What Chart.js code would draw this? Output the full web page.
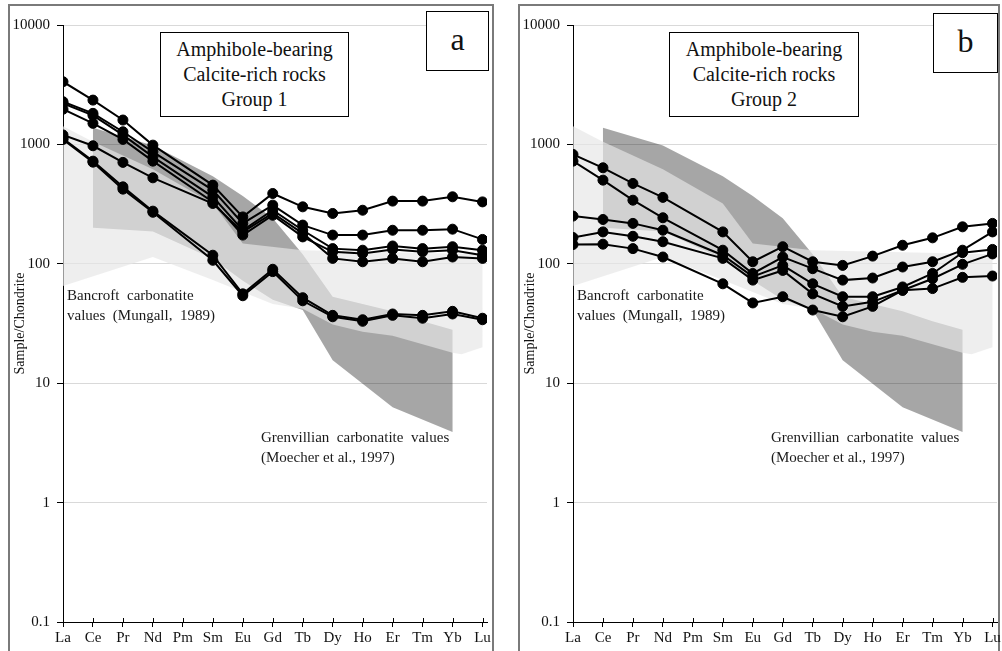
<!DOCTYPE html>
<html>
<head>
<meta charset="utf-8">
<script src="https://cdn.jsdelivr.net/npm/chart.js@4.4.0/dist/chart.umd.min.js"></script>
<style>
  body { margin: 0; width: 1002px; height: 651px; overflow: hidden; background: #fff; position: relative;
         font-family: 'Liberation Serif', Tinos, 'Times New Roman', Times, 'DejaVu Serif', serif; color: #111; }
  .frame { position: absolute; top: 4px; height: 700px; border: 2px solid #7a7a7a; box-sizing: border-box; }
  .wrap { position: absolute; top: 0; width: 500px; height: 651px; }
  .box { position: absolute; border: 1.5px solid #000; background: #fff; box-sizing: border-box; text-align: center; }
  .title-box { font-size: 20px; line-height: 25px; padding-top: 4px; }
  .letter-box { font-size: 32px; line-height: 54px; }
  .note { position: absolute; font-size: 15px; line-height: 20px; white-space: pre; color: #1a1a1a; }
</style>
</head>
<body>
<div class="frame" style="left:8px; width:486px;"></div>
<div class="frame" style="left:518px; width:482px;"></div>

<div class="wrap" style="left:0;"><canvas id="chartA" width="500" height="651"></canvas></div>
<div class="wrap" style="left:510px;"><canvas id="chartB" width="500" height="651"></canvas></div>

<div class="box title-box" style="left:160px; top:32px; width:189px; height:85px;">Amphibole-bearing<br>Calcite-rich rocks<br>Group 1</div>
<div class="box letter-box" style="left:426px; top:11px; width:63px; height:60px;">a</div>
<div class="box title-box" style="left:669px; top:32px; width:190px; height:85px;">Amphibole-bearing<br>Calcite-rich rocks<br>Group 2</div>
<div class="box letter-box" style="left:933px; top:13px; width:65px; height:60px;">b</div>

<div class="note" style="left:67px; top:285px;">Bancroft  carbonatite
values  (Mungall,  1989)</div>
<div class="note" style="left:577px; top:285px;">Bancroft  carbonatite
values  (Mungall,  1989)</div>
<div class="note" style="left:261px; top:427px;">Grenvillian  carbonatite  values
(Moecher et al., 1997)</div>
<div class="note" style="left:771px; top:427px;">Grenvillian  carbonatite  values
(Moecher et al., 1997)</div>

<script>
// REE normalised to chondrite
const elements = ['La', 'Ce', 'Pr', 'Nd', 'Pm', 'Sm', 'Eu', 'Gd', 'Tb', 'Dy', 'Ho', 'Er', 'Tm', 'Yb', 'Lu'];
const yTicks = [0.1, 1, 10, 100, 1000, 10000];
const yTickLabels = ['0.1', '1', '10', '100', '1000', '10000'];

// Group 1 samples (Pm not analysed)
const g1a = [3350, 2350, 1600, 986, null, 456, 247, 388, 300, 264, 281, 335, 335, 364, 330];
const g1b = [2280, 1820, 1276, 867, null, 414, 218, 310, 211, 174, 174, 191, 191, 195, 160];
const g1c = [2200, 1750, 1200, 787, null, 364, 191, 281, 191, 134, 130, 141, 134, 139, 130];
const g1d = [1970, 1500, 1101, 724, null, 330, 174, 255, 168, 126, 122, 132, 126, 130, 118];
const g1e = [1200, 974, 707, 525, null, 320, 185, 265, 180, 111, 104, 111, 104, 114, 111];
const g1f = [1120, 724, 441, 276, null, 118, 56, 90, 52, 37, 34, 38, 37, 40, 35];
const g1g = [1100, 710, 422, 270, null, 107, 54, 86, 49, 36, 33, 37, 35, 38, 34];

// Group 2 samples
const g2a = [824, 637, 471, 360, null, 185, 104, 139, 104, 97, 116, 143, 165, 204, 218];
const g2b = [724, 502, 341, 243, null, 130, 83, 114, 91, 73, 76, 94, 104, 130, 185];
const g2c = [251, 235, 218, 191, null, 118, 78, 97, 68, 53, 53, 64, 83, 124, 132];
const g2d = [166, 185, 170, 153, null, 111, 73, 88, 56, 44, 48, 60, 75, 99, 121];
const g2e = [145, 146, 134, 114, null, 68, 47, 53, 41, 36, 44, 60, 62, 77, 79];

// Grenvillian carbonatite field (Moecher et al., 1997)
const grenTopX = [1, 3, 5, 6, 7, 8, 9, 10, 11, 12, 13];
const grenTopY = [1380, 980, 540, 370, 241, 120, 53, 46, 40, 33, 28];
const grenBotX = [13, 11, 9, 8, 7, 6, 5, 3, 1];
const grenBotY = [3.9, 6.3, 15.6, 41, 50, 72, 110, 186, 200];

// Bancroft carbonatite field (Mungall, 1989)
const banTopX = [-0.27, 1, 3, 5, 6, 8, 14];
const banTopY = [1540, 1050, 620, 320, 148, 130, 120];
const banBotX = [14, 13.3, 13, 11, 10, 9, 8, 7, 6, 5, 3, -0.27];
const banBotY = [20, 17.5, 18, 25, 27, 31, 42, 46, 58, 73, 114, 62];

const serif = "'Liberation Serif', Tinos, 'Times New Roman', Times, 'DejaVu Serif', serif";

function toPoints(xs, ys) {
  return xs.map((x, i) => ({ x: x, y: ys[i] }));
}

function fieldDataset(topX, topY, botX, botY, color, order) {
  return {
    data: toPoints(topX, topY).concat(toPoints(botX, botY)),
    fill: 'shape',
    backgroundColor: color,
    borderColor: 'rgba(0,0,0,0)',
    borderWidth: 0,
    pointRadius: 0,
    tension: 0,
    order: order
  };
}

function sampleDataset(vals) {
  return {
    data: vals.map((v, i) => ({ x: i, y: v })),
    borderColor: '#000',
    borderWidth: 2,
    pointRadius: 5,
    pointBackgroundColor: '#000',
    pointBorderColor: '#000',
    pointBorderWidth: 1,
    spanGaps: true,
    fill: false,
    tension: 0,
    order: 0
  };
}

// tick marks on the category axis cross the axis line (Excel style)
const crossTicks = {
  id: 'crossTicks',
  afterDraw(chart) {
    const xs = chart.scales.x;
    const c = chart.ctx;
    c.save();
    c.strokeStyle = '#000';
    c.lineWidth = 1;
    xs.ticks.forEach((t, i) => {
      const px = Math.round(xs.getPixelForTick(i)) + 0.5;
      c.beginPath();
      c.moveTo(px, xs.top - 4);
      c.lineTo(px, xs.top);
      c.stroke();
    });
    c.restore();
  }
};

function buildChart(id, samples) {
  const ctx = document.getElementById(id).getContext('2d');
  const datasets = [
    fieldDataset(grenTopX, grenTopY, grenBotX, grenBotY, 'rgba(0,0,0,0.35)', 3),
    fieldDataset(banTopX, banTopY, banBotX, banBotY, 'rgba(230,230,230,0.67)', 2)
  ].concat(samples.map(sampleDataset));

  new Chart(ctx, {
    type: 'line',
    data: { datasets: datasets },
    plugins: [crossTicks],
    options: {
      responsive: false,
      animation: false,
      events: [],
      layout: { padding: { top: 25, right: 13, left: 0, bottom: 0 } },
      plugins: { legend: { display: false }, tooltip: { enabled: false } },
      scales: {
        x: {
          type: 'linear',
          min: 0,
          max: 14.15,
          afterBuildTicks: s => { s.ticks = elements.map((e, i) => ({ value: i })); },
          afterFit: s => { s.height = 29; },
          ticks: {
            callback: v => elements[v],
            font: { family: serif, size: 15 },
            color: '#111',
            padding: 2,
            autoSkip: false,
            maxRotation: 0
          },
          grid: { drawOnChartArea: false, tickColor: '#000', tickLength: 5 },
          border: { color: '#000', width: 1 }
        },
        y: {
          type: 'logarithmic',
          min: 0.1,
          max: 10000,
          afterBuildTicks: s => { s.ticks = yTicks.map(v => ({ value: v, major: true })); },
          afterFit: s => { s.width = 63; },
          ticks: {
            callback: (v, i) => yTickLabels[i],
            font: { family: serif, size: 15 },
            color: '#111',
            padding: 7
          },
          grid: {
            color: c => (c.tick && c.tick.value === 0.1) ? 'rgba(0,0,0,0)' : '#d9d9d9',
            tickColor: '#000',
            tickLength: 6
          },
          border: { color: '#000', width: 1 },
          title: {
            display: true,
            text: 'Sample/Chondrite',
            font: { family: serif, size: 14 },
            color: '#111',
            padding: { top: 12, bottom: 0 }
          }
        }
      }
    }
  });
}

buildChart('chartA', [g1a, g1b, g1c, g1d, g1e, g1f, g1g]);
buildChart('chartB', [g2a, g2b, g2c, g2d, g2e]);
</script>
</body>
</html>
